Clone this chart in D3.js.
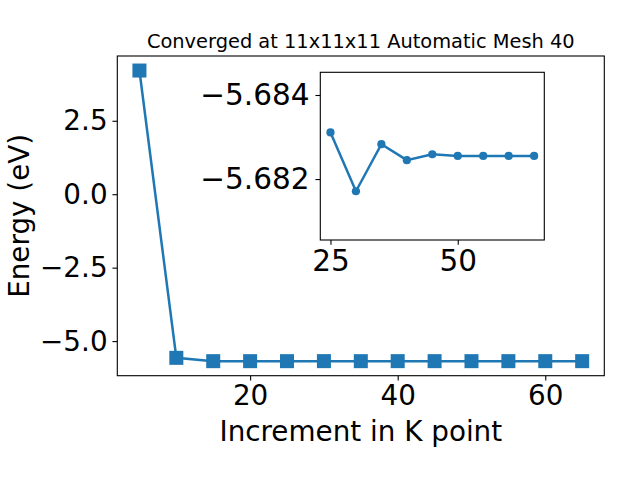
<!DOCTYPE html>
<html>
<head>
<meta charset="utf-8">
<script src="https://cdn.jsdelivr.net/npm/d3@7"></script>
<style>
  body { margin: 0; background: #fff; }
  text { font-family: "DejaVu Sans", sans-serif; fill: #000; }
</style>
</head>
<body>
<div id="chart"></div>
<script>
// main series: energy vs k-point increment
var kPoints = [5, 10, 15, 20, 25, 30, 35, 40, 45, 50, 55, 60, 65];
var energies = [4.21, -5.57, -5.6831, -5.6830, -5.68311, -5.68171, -5.68283, -5.68245,
                -5.68259, -5.68255, -5.68255, -5.68255, -5.68255];

// inset series (zoomed tail)
var insetK = [25, 30, 35, 40, 45, 50, 55, 60, 65];
var insetE = [-5.68311, -5.68171, -5.68283, -5.68245, -5.68259, -5.68255, -5.68255, -5.68255, -5.68255];

var mainXTicks = [20, 40, 60];
var mainYTicks = [2.5, 0.0, -2.5, -5.0];
var insetXTicks = [25, 50];
var insetYTicks = [-5.684, -5.682];
var insetYLim = [-5.68454, -5.68055];   // top, bottom (axis is inverted)

var title = 'Converged at 11x11x11 Automatic Mesh 40';
var xLabel = 'Increment in K point';
var yLabel = 'Energy (eV)';

var width = 640, height = 480;
var color = '#1f77b4';
var big = 27.8, insetFont = 29.5, tickLen = 4.86;

var svg = d3.select('#chart').append('svg')
  .attr('width', width).attr('height', height);

function pad(ext, f) {
  var r = ext[1] - ext[0];
  return [ext[0] - r * f, ext[1] + r * f];
}

// main axes box
var box = { left: 117.3, right: 604.3, top: 56, bottom: 375.7 };

var x = d3.scaleLinear().domain(pad(d3.extent(kPoints), 0.05)).range([box.left, box.right]);
var y = d3.scaleLinear().domain(pad(d3.extent(energies), 0.05)).range([box.bottom, box.top]);

var fmt1 = d3.format('.1f');

svg.append('g')
  .attr('transform', 'translate(0,' + box.bottom + ')')
  .call(d3.axisBottom(x).tickValues(mainXTicks).tickSize(tickLen).tickPadding(4.86).tickFormat(d3.format('d')))
  .call(function(g) { g.select('.domain').remove(); })
  .selectAll('text').style('font-size', big + 'px').attr('font-family', null);

svg.append('g')
  .attr('transform', 'translate(' + box.left + ',0)')
  .call(d3.axisLeft(y).tickValues(mainYTicks).tickSize(tickLen).tickPadding(4.86).tickFormat(fmt1))
  .call(function(g) { g.select('.domain').remove(); })
  .selectAll('text').style('font-size', big + 'px').attr('font-family', null);

svg.selectAll('.tick line').attr('stroke', '#000').attr('stroke-width', 1.1);

svg.append('rect')
  .attr('x', box.left).attr('y', box.top)
  .attr('width', box.right - box.left).attr('height', box.bottom - box.top)
  .attr('fill', 'none').attr('stroke', '#000').attr('stroke-width', 1.1);

var line = d3.line().x(function(d, i) { return x(kPoints[i]); }).y(function(d) { return y(d); });

svg.append('path')
  .datum(energies)
  .attr('d', line)
  .attr('fill', 'none').attr('stroke', color).attr('stroke-width', 2.5);

var sq = 14;
svg.selectAll('.sq')
  .data(energies)
  .enter().append('rect')
  .attr('x', function(d, i) { return x(kPoints[i]) - sq / 2; })
  .attr('y', function(d) { return y(d) - sq / 2; })
  .attr('width', sq).attr('height', sq)
  .attr('fill', color);

// labels
svg.append('text')
  .attr('x', (box.left + box.right) / 2).attr('y', 48)
  .attr('text-anchor', 'middle')
  .style('font-size', '19.4px')
  .text(title);

svg.append('text')
  .attr('x', (box.left + box.right) / 2).attr('y', 441)
  .attr('text-anchor', 'middle')
  .style('font-size', big + 'px')
  .text(xLabel);

svg.append('text')
  .attr('transform', 'translate(29,' + ((box.top + box.bottom) / 2) + ') rotate(-90)')
  .attr('text-anchor', 'middle')
  .style('font-size', big + 'px')
  .text(yLabel);

// inset
var ib = { left: 320.3, right: 544.3, top: 72.3, bottom: 240 };

var ix = d3.scaleLinear().domain(pad(d3.extent(insetK), 0.05)).range([ib.left, ib.right]);
var iy = d3.scaleLinear().domain(insetYLim).range([ib.top, ib.bottom]);

var inset = svg.append('g');

inset.append('rect')
  .attr('x', ib.left).attr('y', ib.top)
  .attr('width', ib.right - ib.left).attr('height', ib.bottom - ib.top)
  .attr('fill', '#fff');

inset.append('g')
  .attr('transform', 'translate(0,' + ib.bottom + ')')
  .call(d3.axisBottom(ix).tickValues(insetXTicks).tickSize(tickLen).tickPadding(5).tickFormat(d3.format('d')))
  .call(function(g) { g.select('.domain').remove(); })
  .selectAll('text').style('font-size', insetFont + 'px').attr('font-family', null);

inset.append('g')
  .attr('transform', 'translate(' + ib.left + ',0)')
  .call(d3.axisLeft(iy).tickValues(insetYTicks).tickSize(tickLen).tickPadding(6).tickFormat(d3.format('.3f')))
  .call(function(g) { g.select('.domain').remove(); })
  .selectAll('text').style('font-size', insetFont + 'px').attr('font-family', null);

inset.selectAll('.tick line').attr('stroke', '#000').attr('stroke-width', 1.1);

inset.append('rect')
  .attr('x', ib.left).attr('y', ib.top)
  .attr('width', ib.right - ib.left).attr('height', ib.bottom - ib.top)
  .attr('fill', 'none').attr('stroke', '#000').attr('stroke-width', 1.1);

var iline = d3.line().x(function(d, i) { return ix(insetK[i]); }).y(function(d) { return iy(d); });

inset.append('path')
  .datum(insetE)
  .attr('d', iline)
  .attr('fill', 'none').attr('stroke', color).attr('stroke-width', 2.5);

inset.selectAll('.dot')
  .data(insetE)
  .enter().append('circle')
  .attr('cx', function(d, i) { return ix(insetK[i]); })
  .attr('cy', function(d) { return iy(d); })
  .attr('r', 4.1)
  .attr('fill', color);
</script>
</body>
</html>
